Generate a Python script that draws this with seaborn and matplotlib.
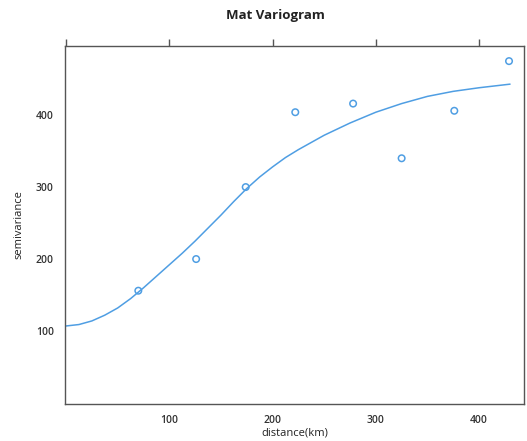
import numpy as np
import pandas as pd
import seaborn as sns
import matplotlib
matplotlib.use('Agg')
import matplotlib.pyplot as plt

dist  = [70, 126, 174, 222, 278, 325, 376, 429]
gamma = [156, 200, 300, 404, 416, 340, 406, 475]

# fitted Matern model line
fit_dist  = [0, 12.5, 25, 37.5, 50, 62.5, 75, 87.5, 100, 112.5, 125, 137.5, 150,
             162.5, 175, 187.5, 200, 212.5, 225, 250, 275, 300, 325, 350, 375, 400, 430]
fit_gamma = [107, 109, 114, 122, 132, 145, 160, 176, 192, 208, 225, 243, 261,
             280, 298, 314, 328, 341, 352, 372, 389, 404, 416, 426, 433, 438, 443]

xticks = [0, 100, 200, 300, 400]
xtick_labels = ['', '100', '200', '300', '400']
yticks = [0, 100, 200, 300, 400]
ytick_labels = ['', '100', '200', '300', '400']

pts = pd.DataFrame({'dist': dist, 'gamma': gamma})
fit = pd.DataFrame({'dist': fit_dist, 'gamma': fit_gamma})

sns.set_theme(style='white')
plt.rcParams['font.family'] = ['Open Sans', 'DejaVu Sans']

blue = '#4f9ee3'
frame = '#555555'

fig = plt.figure(figsize=(5.27, 4.41), dpi=100)
ax = fig.add_axes([65/527, 1 - 404/441, (524 - 65)/527, (404 - 46)/441])

sns.lineplot(data=fit, x='dist', y='gamma', color=blue, linewidth=1.1, ax=ax)
sns.scatterplot(data=pts, x='dist', y='gamma', marker='o', s=22,
                facecolor='none', edgecolor=blue, linewidth=1.1, ax=ax)

ax.set_xlim(-1, 443.5)
ax.set_ylim(-1.4, 496)

ax.set_xticks(xticks)
ax.set_xticklabels(xtick_labels)
ax.set_yticks(yticks)
ax.set_yticklabels(ytick_labels)

for s in ax.spines.values():
    s.set_color(frame)
    s.set_linewidth(1.0)

ax.tick_params(axis='both', which='both', direction='out', length=5, width=1,
               color=frame, labelsize=7.5, labelcolor='#333333', pad=3)
# lattice style: ticks on top too, right side ticks are barely visible
ax.tick_params(top=True, right=False, labeltop=False, labelright=False)
for lbl in ax.get_xticklabels() + ax.get_yticklabels():
    lbl.set_fontweight('semibold')

ax.set_xlabel('distance(km)', fontsize=8, color='#222222', labelpad=1)
ax.set_ylabel('semivariance', fontsize=8, color='#222222', labelpad=8)

fig.text(275/527, 1 - 16/441, 'Mat Variogram', ha='center', va='center',
         fontsize=9.5, fontweight='bold', color='#222222')

fig.savefig('out.png', dpi=100)
